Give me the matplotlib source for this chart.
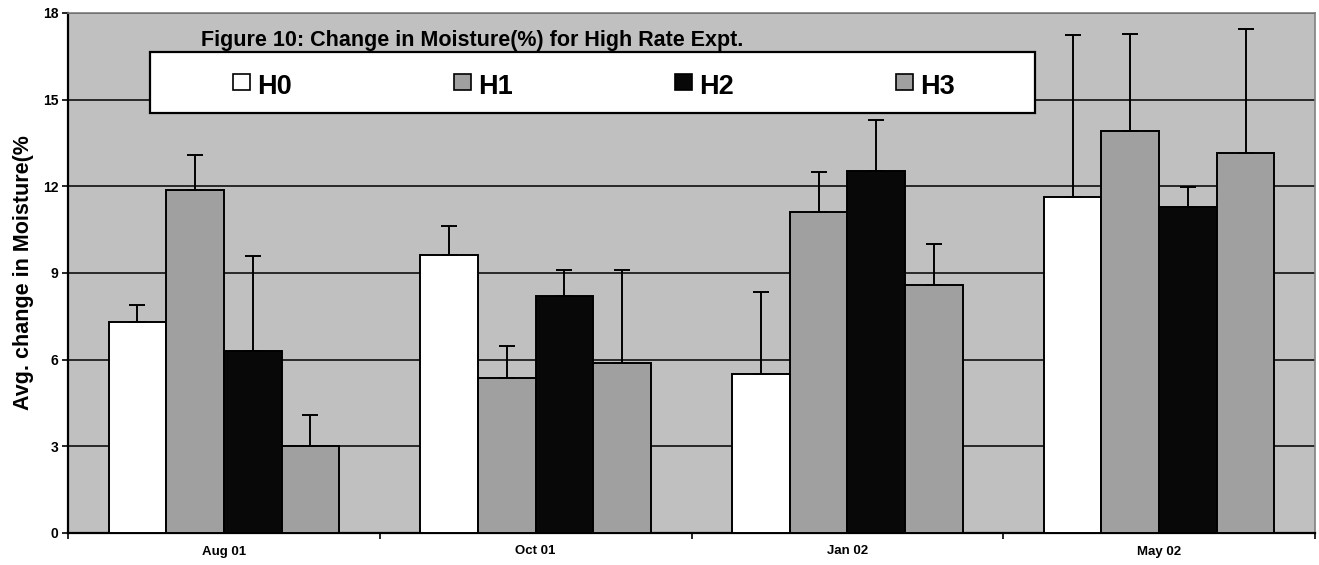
import numpy as np
import matplotlib
matplotlib.use("Agg")
import matplotlib.pyplot as plt
from matplotlib.patches import Rectangle

plt.rcParams["font.family"] = ["Liberation Sans", "DejaVu Sans"]
plt.rcParams["font.weight"] = "bold"

# data
dates = ["Aug 01", "Oct 01", "Jan 02", "May 02"]
series = ["H0", "H1", "H2", "H3"]
h0 = [7.32, 9.61, 5.51, 11.62]
h1 = [11.89, 5.38, 11.12, 13.92]
h2 = [6.31, 8.22, 12.53, 11.30]
h3 = [3.02, 5.87, 8.57, 13.16]
# upper error bar ends
h0_top = [7.88, 10.63, 8.35, 17.23]
h1_top = [13.07, 6.48, 12.50, 17.29]
h2_top = [9.60, 9.11, 14.30, 11.98]
h3_top = [4.07, 9.11, 10.01, 17.44]

values = [h0, h1, h2, h3]
tops = [h0_top, h1_top, h2_top, h3_top]
colors = ["#FFFFFF", "#A0A0A0", "#080808", "#A0A0A0"]

fig = plt.figure(figsize=(13.19, 5.65), dpi=100)
ax = fig.add_axes([68 / 1319, 32 / 565, 1247 / 1319, 520 / 565])
ax.set_facecolor("#C0C0C0")

x = np.arange(len(dates))
w = 0.185
for i, (vals, tp, c) in enumerate(zip(values, tops, colors)):
    vals = np.array(vals)
    err = np.array(tp) - vals
    pos = x + (i - 1.5) * w
    ax.bar(pos, vals, width=w, color=c, edgecolor="black", linewidth=1.4, zorder=3)
    ax.errorbar(pos, vals, yerr=[np.zeros_like(err), err], fmt="none",
                ecolor="black", elinewidth=1.4, capsize=5.5, capthick=1.4, zorder=4)

ax.set_xlim(-0.5, len(dates) - 0.5)
ax.set_ylim(0, 18)
ax.set_yticks(np.arange(0, 19, 3))
ax.yaxis.grid(True, color="black", linewidth=1.1)
ax.set_axisbelow(True)

# group boundaries as major ticks, labels on minor ticks
ax.set_xticks(np.arange(-0.5, len(dates), 1.0))
ax.set_xticklabels([])
ax.set_xticks(x, minor=True)
ax.set_xticklabels(dates, minor=True, fontsize=9.5, fontweight="bold")
ax.tick_params(axis="x", which="minor", length=0, pad=9)
ax.tick_params(axis="x", which="major", length=4, width=1.2, direction="out")
ax.tick_params(axis="y", length=4, width=1.2, labelsize=10, pad=3)
for lab in ax.get_yticklabels():
    lab.set_fontweight("bold")

for s in ["left", "bottom"]:
    ax.spines[s].set_linewidth(1.6)
    ax.spines[s].set_color("black")
for s in ["top", "right"]:
    ax.spines[s].set_linewidth(1.2)
    ax.spines[s].set_color("#808080")

ax.set_ylabel("Avg. change in Moisture(%", fontsize=15.5, fontweight="bold")
ax.yaxis.set_label_coords(-0.027, 0.5)

# legend box drawn in axes coordinates
ax.add_patch(Rectangle((0.0658, 0.8077), 0.7097, 0.1173, transform=ax.transAxes,
                       facecolor="white", edgecolor="black", linewidth=1.6, zorder=5))
for i, (name, c) in enumerate(zip(series, colors)):
    x0 = 0.1323 + i * 0.1772
    ax.add_patch(Rectangle((x0, 0.8519), 0.0136, 0.0308, transform=ax.transAxes,
                           facecolor=c, edgecolor="black", linewidth=1.2, zorder=6))
    ax.text(x0 + 0.0193, 0.8442, name, transform=ax.transAxes, fontsize=19.5,
            fontweight="bold", va="baseline", ha="left", zorder=6)

ax.text(0.1067, 0.9365, "Figure 10: Change in Moisture(%) for High Rate Expt.",
        transform=ax.transAxes, fontsize=15.5, fontweight="bold",
        va="baseline", ha="left", zorder=6)

fig.savefig("out.png", dpi=100)
